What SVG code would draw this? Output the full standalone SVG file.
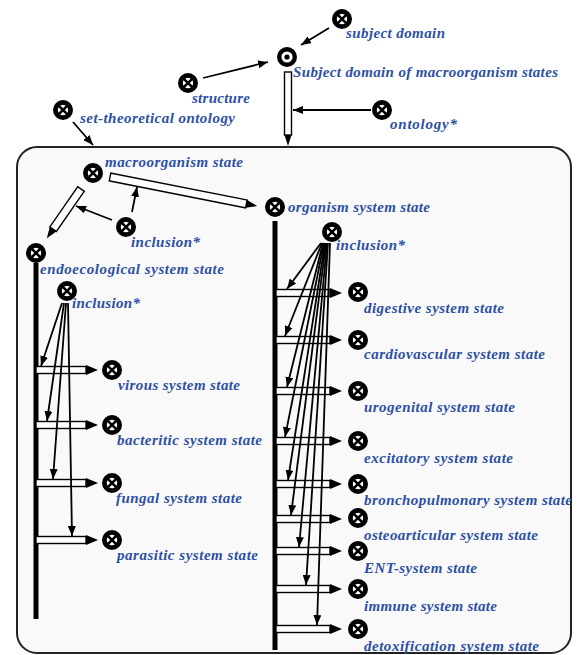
<svg xmlns="http://www.w3.org/2000/svg" xmlns:xlink="http://www.w3.org/1999/xlink" width="584" height="655" viewBox="0 0 584 655">
  <style>
    .lbl { font-family: "Liberation Serif", "DejaVu Serif", serif; font-style: italic; font-weight: bold; font-size: 15px; fill: #2c4fa3; }
    .arc { stroke: #000; stroke-width: 1.8; fill: none; marker-end: url(#tip); }
    .bar { fill: #fff; stroke: #000; stroke-width: 1.4; }
    .head { fill: #000; }
    .spine { stroke: #000; stroke-width: 5; }
    .frame { fill: #f9f9f9; stroke: #222; stroke-width: 2; }
  </style>
  <defs>
    <marker id="tip" viewBox="0 0 10 8" refX="10" refY="4" markerWidth="10" markerHeight="8" markerUnits="userSpaceOnUse" orient="auto">
      <path d="M0,0 L10,4 L0,8 Z" fill="#000"/>
    </marker>
    <!-- class node: thick ring with a cross -->
    <g id="cls">
      <circle r="7.6" fill="#fff" stroke="#000" stroke-width="4.8"/>
      <path d="M-4.2,-4.2 L4.2,4.2 M4.2,-4.2 L-4.2,4.2" stroke="#000" stroke-width="2.6"/>
    </g>
    <!-- structure node: thick ring with a dot -->
    <g id="struct">
      <circle r="7.8" fill="#fff" stroke="#000" stroke-width="4.4"/>
      <circle r="2.6" fill="#000"/>
    </g>
    <!-- horizontal hollow arcs pointing right -->
    <g id="hollow65">
      <rect class="bar" x="0" y="-3.5" width="54" height="7"/>
      <path class="head" d="M54,-5 L66,0 L54,5 Z"/>
    </g>
    <g id="hollow62">
      <rect class="bar" x="0" y="-3.5" width="50" height="7"/>
      <path class="head" d="M50,-5 L62,0 L50,5 Z"/>
    </g>
  </defs>

  <rect class="frame" x="17" y="147" width="554" height="506" rx="20" ry="20"/>

  <g id="connectors">
    <!-- top level arcs -->
    <line class="arc" x1="329" y1="28" x2="301" y2="45"/>
    <line class="arc" x1="203" y1="78" x2="268" y2="62"/>
    <line class="arc" x1="371" y1="110" x2="293" y2="110"/>
    <line class="arc" x1="73" y1="122" x2="93" y2="145"/>
    <!-- domain to its structure frame -->
    <g transform="translate(288,72) rotate(90)">
      <rect class="bar" x="0" y="-3.5" width="63" height="7"/>
      <path class="head" d="M63,-3.5 L74,0 L63,3.5 Z"/>
    </g>
    <!-- macroorganism state to organism system state -->
    <g transform="translate(110,177) rotate(11.16)">
      <rect class="bar" x="0" y="-4" width="139" height="8"/>
      <path class="head" d="M139,-4 L150,0 L139,4 Z"/>
    </g>
    <!-- macroorganism state to endoecological system state -->
    <g transform="translate(81,189) rotate(124.75)">
      <rect class="bar" x="0" y="-4" width="49" height="8"/>
      <path class="head" d="M49,-4 L60,0 L49,4 Z"/>
    </g>
    <line class="arc" x1="112" y1="220" x2="76" y2="206"/>
    <line class="arc" x1="132" y1="212" x2="137" y2="187"/>

    <!-- left column -->
    <line class="spine" x1="36" y1="263" x2="36" y2="619"/>
    <use xlink:href="#hollow62" x="36" y="370"/>
    <use xlink:href="#hollow62" x="36" y="425"/>
    <use xlink:href="#hollow62" x="36" y="483"/>
    <use xlink:href="#hollow62" x="36" y="540"/>
    <line class="arc" x1="62" y1="303" x2="41" y2="366"/>
    <line class="arc" x1="64" y1="303" x2="47" y2="421"/>
    <line class="arc" x1="66" y1="303" x2="53" y2="479"/>
    <line class="arc" x1="68" y1="303" x2="72" y2="536"/>

    <!-- right column -->
    <line class="spine" x1="275" y1="221" x2="275" y2="650"/>
    <use xlink:href="#hollow65" x="276" y="293"/>
    <use xlink:href="#hollow65" x="276" y="340"/>
    <use xlink:href="#hollow65" x="276" y="391"/>
    <use xlink:href="#hollow65" x="276" y="441"/>
    <use xlink:href="#hollow65" x="276" y="484"/>
    <use xlink:href="#hollow65" x="276" y="519"/>
    <use xlink:href="#hollow65" x="276" y="551"/>
    <use xlink:href="#hollow65" x="276" y="589"/>
    <use xlink:href="#hollow65" x="276" y="629"/>
    <line class="arc" x1="321" y1="243" x2="287" y2="289"/>
    <line class="arc" x1="322" y1="243" x2="285" y2="336"/>
    <line class="arc" x1="323" y1="243" x2="287" y2="387"/>
    <line class="arc" x1="324" y1="243" x2="285" y2="437"/>
    <line class="arc" x1="325" y1="243" x2="288" y2="480"/>
    <line class="arc" x1="326" y1="243" x2="291" y2="515"/>
    <line class="arc" x1="327" y1="243" x2="299" y2="547"/>
    <line class="arc" x1="328" y1="243" x2="306" y2="585"/>
    <line class="arc" x1="330" y1="243" x2="317" y2="625"/>
  </g>

  <g id="subject-domain"><use xlink:href="#cls" x="342" y="19"/><text class="lbl" x="346" y="38" textLength="99">subject domain</text></g>
  <g id="sd-macroorganism-states"><use xlink:href="#struct" x="287" y="57"/><text class="lbl" x="293" y="77" textLength="265">Subject domain of macroorganism states</text></g>
  <g id="structure"><use xlink:href="#cls" x="188" y="83"/><text class="lbl" x="192" y="103" textLength="58">structure</text></g>
  <g id="ontology"><use xlink:href="#cls" x="382" y="110"/><text class="lbl" x="390" y="129" textLength="67">ontology*</text></g>
  <g id="set-theoretical-ontology"><use xlink:href="#cls" x="63" y="110"/><text class="lbl" x="80" y="123" textLength="155">set-theoretical ontology</text></g>
  <g id="macroorganism-state"><use xlink:href="#cls" x="93" y="173"/><text class="lbl" x="105" y="167" textLength="138">macroorganism state</text></g>
  <g id="organism-system-state"><use xlink:href="#cls" x="275" y="207"/><text class="lbl" x="288" y="212" textLength="142">organism system state</text></g>
  <g id="inclusion-top"><use xlink:href="#cls" x="126" y="227"/><text class="lbl" x="131" y="247" textLength="69">inclusion*</text></g>
  <g id="endoecological-system-state"><use xlink:href="#cls" x="36" y="253"/><text class="lbl" x="40" y="274" textLength="184">endoecological system state</text></g>
  <g id="inclusion-left"><use xlink:href="#cls" x="67" y="291"/><text class="lbl" x="72" y="308" textLength="68">inclusion*</text></g>
  <g id="inclusion-right"><use xlink:href="#cls" x="332" y="232"/><text class="lbl" x="336" y="250" textLength="69">inclusion*</text></g>

  <g id="virous"><use xlink:href="#cls" x="112" y="370"/><text class="lbl" x="118" y="390" textLength="122">virous system state</text></g>
  <g id="bacteritic"><use xlink:href="#cls" x="112" y="425"/><text class="lbl" x="117" y="445" textLength="145">bacteritic system state</text></g>
  <g id="fungal"><use xlink:href="#cls" x="112" y="483"/><text class="lbl" x="116" y="503" textLength="126">fungal system state</text></g>
  <g id="parasitic"><use xlink:href="#cls" x="112" y="540"/><text class="lbl" x="117" y="560" textLength="141">parasitic system state</text></g>

  <g id="digestive"><use xlink:href="#cls" x="358" y="292"/><text class="lbl" x="364" y="313" textLength="140">digestive system state</text></g>
  <g id="cardiovascular"><use xlink:href="#cls" x="358" y="340"/><text class="lbl" x="364" y="359" textLength="181">cardiovascular system state</text></g>
  <g id="urogenital"><use xlink:href="#cls" x="358" y="391"/><text class="lbl" x="364" y="412" textLength="151">urogenital system state</text></g>
  <g id="excitatory"><use xlink:href="#cls" x="358" y="441"/><text class="lbl" x="364" y="463" textLength="149">excitatory system state</text></g>
  <g id="bronchopulmonary"><use xlink:href="#cls" x="358" y="484"/><text class="lbl" x="364" y="505" textLength="208">bronchopulmonary system state</text></g>
  <g id="osteoarticular"><use xlink:href="#cls" x="358" y="518"/><text class="lbl" x="364" y="540" textLength="174">osteoarticular system state</text></g>
  <g id="ent"><use xlink:href="#cls" x="358" y="551"/><text class="lbl" x="364" y="573" textLength="113">ENT-system state</text></g>
  <g id="immune"><use xlink:href="#cls" x="358" y="589"/><text class="lbl" x="364" y="611" textLength="133">immune system state</text></g>
  <g id="detoxification"><use xlink:href="#cls" x="358" y="629"/><text class="lbl" x="364" y="651" textLength="175">detoxification system state</text></g>
</svg>
